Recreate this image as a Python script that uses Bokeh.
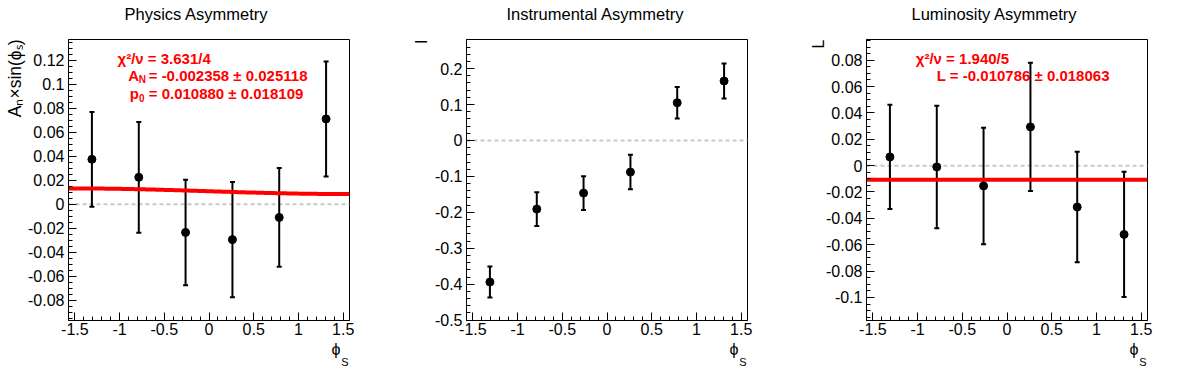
import math
import numpy as np
from bokeh.plotting import figure
from bokeh.models import Range1d, FixedTicker, Label, Span, Whisker, TeeHead, ColumnDataSource, Title
from bokeh.layouts import row
from bokeh.embed import file_html
from bokeh.resources import INLINE

# ---------------- data ----------------
phi_bins = [-1.309, -0.785, -0.262, 0.262, 0.785, 1.309]

phys_y = [0.0375, 0.0225, -0.0235, -0.0295, -0.0110, 0.0712]
phys_err = [0.0395, 0.0462, 0.0440, 0.0480, 0.0412, 0.0480]

inst_y = [-0.394, -0.191, -0.1465, -0.088, 0.105, 0.1655]
inst_err = [0.043, 0.047, 0.047, 0.048, 0.044, 0.049]

lumi_y = [0.0066, -0.0010, -0.0154, 0.0294, -0.0314, -0.0522]
lumi_err = [0.0395, 0.0465, 0.0442, 0.0486, 0.0419, 0.0475]

phys_fit_AN = -0.002358
phys_fit_p0 = 0.010880
lumi_fit_L = -0.010786

titles = ["Physics Asymmetry", "Instrumental Asymmetry", "Luminosity Asymmetry"]
title_offsets = [56, 40, 45]
y_titles = ["A\u2099\u00d7sin(\u03d5\u209b)", "I", "L"]
x_title = ["\u03d5", "S"]
phys_stats = ["\u03c7\u00b2/\u03bd = 3.631/4", "= -0.002358 \u00b1 0.025118", "= 0.010880 \u00b1 0.018109"]
lumi_stats = ["\u03c7\u00b2/\u03bd = 1.940/5", "L = -0.010786 \u00b1 0.018063"]

x_ticks = [-1.5, -1.0, -0.5, 0.0, 0.5, 1.0, 1.5]
x_tick_labels = ["-1.5", "-1", "-0.5", "0", "0.5", "1", "1.5"]

phys_yticks = [-0.08, -0.06, -0.04, -0.02, 0.0, 0.02, 0.04, 0.06, 0.08, 0.1, 0.12]
phys_ylabels = ["-0.08", "-0.06", "-0.04", "-0.02", "0", "0.02", "0.04", "0.06", "0.08", "0.1", "0.12"]
inst_yticks = [-0.5, -0.4, -0.3, -0.2, -0.1, 0.0, 0.1, 0.2]
inst_ylabels = ["-0.5", "-0.4", "-0.3", "-0.2", "-0.1", "0", "0.1", "0.2"]
lumi_yticks = [-0.1, -0.08, -0.06, -0.04, -0.02, 0.0, 0.02, 0.04, 0.06, 0.08]
lumi_ylabels = ["-0.1", "-0.08", "-0.06", "-0.04", "-0.02", "0", "0.02", "0.04", "0.06", "0.08"]

FONT = "Liberation Sans"
HEIGHT = 370
TOP = 39
FRAME_H = 281


def minor(a, b, step):
    n = int(round((b - a) / step))
    return [round(a + i * step, 4) for i in range(n + 1)]


def lab(p, text, x, y, size, color="black", bold=False, level="annotation"):
    p.add_layout(Label(x=x, y=y, x_units="screen", y_units="screen", text=text,
                       text_font=FONT, text_font_size=f"{size}px", text_color=color,
                       text_font_style="bold" if bold else "normal",
                       text_align="left", text_baseline="alphabetic", level=level))


def side_title(p, text, side, size, align, offset, standoff):
    p.add_layout(Title(text=text, align=align, offset=offset, standoff=standoff,
                       text_font=FONT, text_font_size=f"{size}px", text_font_style="normal",
                       text_color="black"), side)


def make_panel(width, left, right, yr, yticks, ylabels, yminor, ys, errs, title, toff, ytitle, ysize, ystand):
    p = figure(width=width, height=HEIGHT, x_range=Range1d(-1.5708, 1.5708), y_range=Range1d(*yr),
               output_backend="svg", toolbar_location=None,
               min_border_left=left, min_border_right=right, min_border_top=TOP,
               min_border_bottom=HEIGHT - TOP - FRAME_H)
    p.grid.visible = False
    p.outline_line_color = "black"
    p.outline_line_width = 1
    p.outline_line_alpha = 1.0
    p.background_fill_color = "white"
    p.border_fill_color = "white"
    for ax, ticks, labels, mn in ((p.xaxis[0], x_ticks, x_tick_labels, minor(-1.5, 1.5, 0.1)),
                                  (p.yaxis[0], yticks, ylabels, yminor)):
        ax.ticker = FixedTicker(ticks=ticks, minor_ticks=mn)
        ax.major_label_overrides = {t: l for t, l in zip(ticks, labels)}
        ax.major_tick_in = 8
        ax.major_tick_out = 0
        ax.minor_tick_in = 4
        ax.minor_tick_out = 0
        ax.major_tick_line_color = "black"
        ax.minor_tick_line_color = "black"
        ax.axis_line_color = "black"
        ax.major_label_text_font = FONT
        ax.major_label_text_font_size = "16px"
        ax.major_label_text_color = "black"
    p.xaxis.major_label_standoff = 2
    p.yaxis.major_label_standoff = 4

    # spacer between frame and the pad title (pushes the title upward)
    side_title(p, " ", "above", 12.5, "left", 0, 0)
    side_title(p, title, "above", 16.5, "left", toff, 2)
    side_title(p, x_title[0], "below", 16, "right", 9, 2)
    side_title(p, x_title[1], "below", 11, "right", 1, -9)
    side_title(p, ytitle, "left", ysize, "right", 0, ystand)

    p.add_layout(Span(location=0, dimension="width", line_color="#c8c8c8", line_dash="4 3",
                      line_width=2, level="underlay"))

    src = ColumnDataSource(dict(x=phi_bins, y=ys,
                                lo=[a - b for a, b in zip(ys, errs)],
                                hi=[a + b for a, b in zip(ys, errs)]))
    return p, src


def draw_points(p, src):
    p.add_layout(Whisker(source=src, base="x", upper="hi", lower="lo", dimension="height",
                         line_color="black", line_width=2,
                         upper_head=TeeHead(size=5, line_width=2, line_color="black"),
                         lower_head=TeeHead(size=5, line_width=2, line_color="black")))
    p.scatter("x", "y", source=src, size=8, color="black")


# ---------- panel 1 ----------
p1, s1 = make_panel(399, 68, 50, (-0.0970, 0.1375), phys_yticks, phys_ylabels,
                    minor(-0.095, 0.135, 0.005), phys_y, phys_err, titles[0], title_offsets[0],
                    y_titles[0], 17.5, 2)
fx = np.linspace(-math.pi / 2, math.pi / 2, 200)
p1.line(fx, phys_fit_p0 + phys_fit_AN * np.sin(fx), line_color="red", line_width=4)
draw_points(p1, s1)
lab(p1, phys_stats[0], 49, 261.7, 15, color="red", bold=True)
lab(p1, "A", 59.7, 245, 15, color="red", bold=True)
lab(p1, "N", 70.3, 241.5, 10, color="red", bold=True)
lab(p1, phys_stats[1], 80.2, 245, 15, color="red", bold=True)
lab(p1, "p", 61.3, 226.7, 15, color="red", bold=True)
lab(p1, "0", 70.5, 223, 10, color="red", bold=True)
lab(p1, phys_stats[2], 80.2, 226.7, 15, color="red", bold=True)

# ---------- panel 2 ----------
p2, s2 = make_panel(399, 67, 51, (-0.501, 0.281), inst_yticks, inst_ylabels,
                    minor(-0.5, 0.28, 0.02), inst_y, inst_err, titles[1], title_offsets[1],
                    y_titles[1], 16, 4)
draw_points(p2, s2)

# ---------- panel 3 ----------
p3, s3 = make_panel(396, 68, 47, (-0.1175, 0.0957), lumi_yticks, lumi_ylabels,
                    minor(-0.115, 0.095, 0.005), lumi_y, lumi_err, titles[2], title_offsets[2],
                    y_titles[2], 16, -7)
p3.line([-math.pi / 2, math.pi / 2], [lumi_fit_L, lumi_fit_L], line_color="red", line_width=4)
lab(p3, lumi_stats[0], 49.3, 261.7, 15, color="red", bold=True, level="underlay")
lab(p3, lumi_stats[1], 70.3, 245, 15, color="red", bold=True, level="underlay")
draw_points(p3, s3)

layout = row(p1, p2, p3)
open("out.html", "w").write(file_html(layout, INLINE))
